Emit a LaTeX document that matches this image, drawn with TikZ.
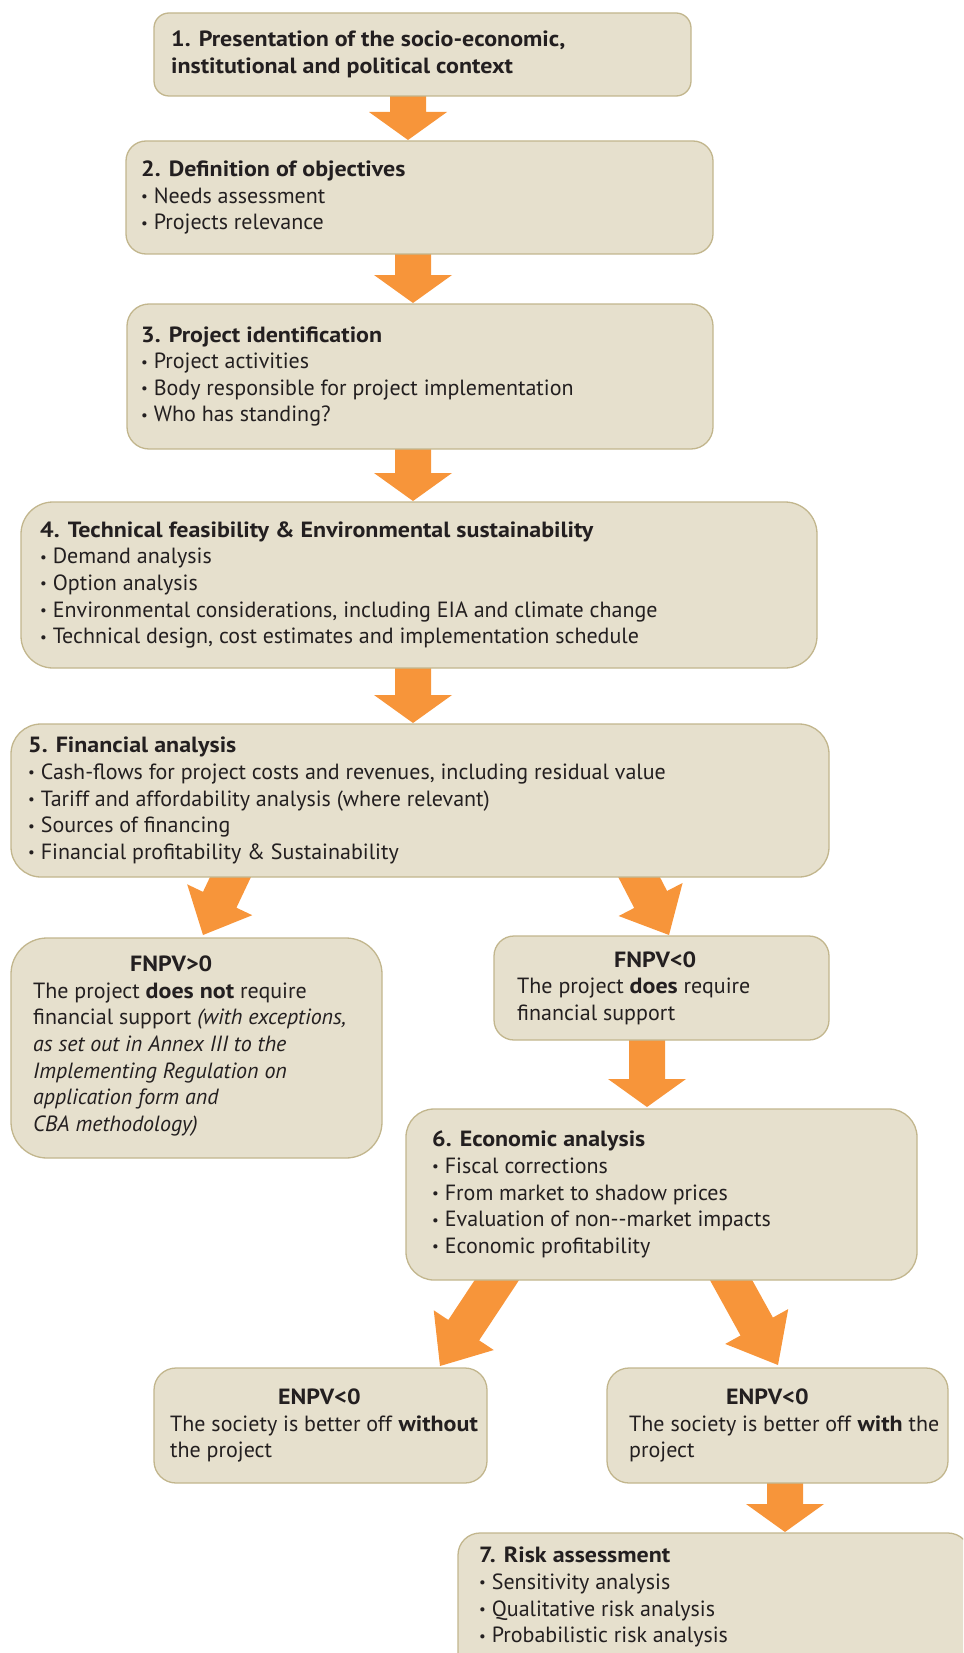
\documentclass[tikz,border=0pt]{standalone}
\usepackage{fontspec}
\setmainfont{PT Sans}[BoldFeatures={FakeStretch=1.09}]
\usetikzlibrary{calc,backgrounds}
\definecolor{boxfill}{HTML}{E6E0CD}
\definecolor{boxline}{HTML}{C2B68D}
\definecolor{arrowc}{HTML}{F7953A}
\definecolor{txtc}{HTML}{231F20}
\newcommand{\bl}{\raisebox{1.6pt}{\fontsize{15}{15}\selectfont •}}
% fat arrow: #1 start, #2 tip, #3 half stem, #4 half head, #5 head length
\newcommand{\orarrow}[5]{%
  \coordinate (tmph) at ($(#2)!#5!(#1)$);
  \fill[arrowc] ($(#1)!#3!90:(#2)$) -- ($(tmph)!#3!-90:(#1)$) -- ($(tmph)!#4!-90:(#1)$) -- (#2)
    -- ($(tmph)!#4!90:(#1)$) -- ($(tmph)!#3!90:(#1)$) -- ($(#1)!#3!-90:(#2)$) -- cycle;}
\begin{document}
\begin{tikzpicture}[x=1pt,y=-1pt,
  box/.style={draw=boxline, fill=boxfill, line width=1.3pt, anchor=north west, inner sep=0pt, outer sep=0pt},
  lbl/.style={anchor=west, align=left, inner sep=0pt, text=txtc, font=\fontsize{22}{26.6}\selectfont},
]
\clip (0,0) rectangle (963,1653);
% boxes
\node[box, minimum width=537pt, minimum height=83pt, rounded corners=15pt] (b1) at (154,13) {};
\node[box, minimum width=587pt, minimum height=113pt, rounded corners=20pt] (b2) at (126,141) {};
\node[box, minimum width=586pt, minimum height=145pt, rounded corners=22pt] (b3) at (127,304) {};
\node[box, minimum width=796pt, minimum height=166pt, rounded corners=32pt] (b4) at (21,502) {};
\node[box, minimum width=818pt, minimum height=153pt, rounded corners=30pt] (b5) at (11,724) {};
\node[box, minimum width=371pt, minimum height=220pt, rounded corners=36pt] (f1) at (11,938) {};
\node[box, minimum width=335pt, minimum height=104pt, rounded corners=20pt] (f2) at (494,936) {};
\node[box, minimum width=511pt, minimum height=171pt, rounded corners=28pt] (b6) at (406,1109) {};
\node[box, minimum width=333pt, minimum height=115pt, rounded corners=22pt] (e1) at (154,1368) {};
\node[box, minimum width=341pt, minimum height=115pt, rounded corners=22pt] (e2) at (607,1368) {};
\node[box, minimum width=512pt, minimum height=142pt, rounded corners=22pt] (b7) at (458,1533) {};
% texts
\node[lbl] (t1) at ($(b1.west)+(17,0)$) {\textbf{1. Presentation of the socio-economic,}\\\textbf{institutional and political context}};
\node[lbl] (t2) at ($(b2.west)+(15,0)$) {\textbf{2. Definition of objectives}\\\bl{} Needs assessment\\\bl{} Projects relevance};
\node[lbl] (t3) at ($(b3.west)+(14,0)$) {\textbf{3. Project identification}\\\bl{} Project activities\\\bl{} Body responsible for project implementation\\\bl{} Who has standing?};
\node[lbl] (t4) at ($(b4.west)+(19,0)$) {\textbf{4. Technical feasibility \& Environmental sustainability}\\\bl{} Demand analysis\\\bl{} Option analysis\\\bl{} Environmental considerations, including EIA and climate change\\\bl{} Technical design, cost estimates and implementation schedule};
\node[lbl] (t5) at ($(b5.west)+(17,0)$) {\textbf{5. Financial analysis}\\\bl{} Cash-flows for project costs and revenues, including residual value\\\bl{} Tariff and affordability analysis (where relevant)\\\bl{} Sources of financing\\\bl{} Financial profitability \& Sustainability};
\node[lbl] (tf1) at ($(f1.west)+(22,-2)$) {\hspace*{97pt}\textbf{FNPV>0}\\The project \textbf{does not} require\\financial support \textit{(with exceptions,}\\\textit{as set out in Annex III to the}\\\textit{Implementing Regulation on}\\\textit{application form and}\\\textit{CBA methodology)}};
\node[lbl] (tf2) at ($(f2.west)+(23,0)$) {\hspace*{97pt}\textbf{FNPV<0}\\The project \textbf{does} require\\financial support};
\node[lbl] (t6) at ($(b6.west)+(26,0)$) {\textbf{6. Economic analysis}\\\bl{} Fiscal corrections\\\bl{} From market to shadow prices\\\bl{} Evaluation of non-{}-market impacts\\\bl{} Economic profitability};
\node[lbl] (te1) at ($(e1.west)+(16,0)$) {\hspace*{108pt}\textbf{ENPV<0}\\The society is better off \textbf{without}\\the project};
\node[lbl] (te2) at ($(e2.west)+(22,0)$) {\hspace*{97pt}\textbf{ENPV<0}\\The society is better off \textbf{with} the\\project};
\node[lbl, anchor=north west] (t7) at ($(b7.north west)+(21,14)$) {\textbf{7. Risk assessment}\\\bl{} Sensitivity analysis\\\bl{} Qualitative risk analysis\\\bl{} Probabilistic risk analysis};
% arrows
\begin{scope}[on background layer]
\coordinate (s1) at ($(b1.south west)+(254,-10)$); \coordinate (e1t) at ($(b2.north west)+(282,-1)$);
\orarrow{s1}{e1t}{18pt}{39pt}{28pt}
\coordinate (s2) at ($(b2.south west)+(287,-10)$); \coordinate (e2t) at ($(b3.north west)+(286,-1)$);
\orarrow{s2}{e2t}{18pt}{39pt}{28pt}
\coordinate (s3) at ($(b3.south west)+(286,-10)$); \coordinate (e3t) at ($(b4.north west)+(392,-1)$);
\orarrow{s3}{e3t}{18pt}{39pt}{28pt}
\coordinate (s4) at ($(b4.south west)+(392,-10)$); \coordinate (e4t) at ($(b5.north west)+(402,-1)$);
\orarrow{s4}{e4t}{18pt}{39pt}{28pt}
\coordinate (s5) at ($(b5.south west)+(228.1,-18.1)$); \coordinate (e5t) at ($(f1.north west)+(192,-3)$);
\orarrow{s5}{e5t}{18.5pt}{36pt}{39pt}
\coordinate (s6) at ($(b5.south west)+(618.8,-17.8)$); \coordinate (e6t) at ($(f2.north west)+(175,-1)$);
\orarrow{s6}{e6t}{18.5pt}{36pt}{40pt}
\coordinate (s7) at ($(f2.south west)+(153,-10)$); \coordinate (e7t) at ($(b6.north west)+(241,-2)$);
\orarrow{s7}{e7t}{18pt}{39pt}{28pt}
\coordinate (s8) at ($(b6.south west)+(102,-16.7)$); \coordinate (e8t) at ($(e1.north west)+(286,-2)$);
\orarrow{s8}{e8t}{18.5pt}{36pt}{43pt}
\coordinate (s9) at ($(b6.south west)+(315.3,-17.5)$); \coordinate (e9t) at ($(e2.north west)+(171,-3)$);
\orarrow{s9}{e9t}{18.5pt}{36pt}{44pt}
\coordinate (s10) at ($(e2.south west)+(178,-10)$); \coordinate (e10t) at ($(b7.north west)+(327,-1)$);
\orarrow{s10}{e10t}{18pt}{39pt}{28pt}
\end{scope}
\end{tikzpicture}
\end{document}
